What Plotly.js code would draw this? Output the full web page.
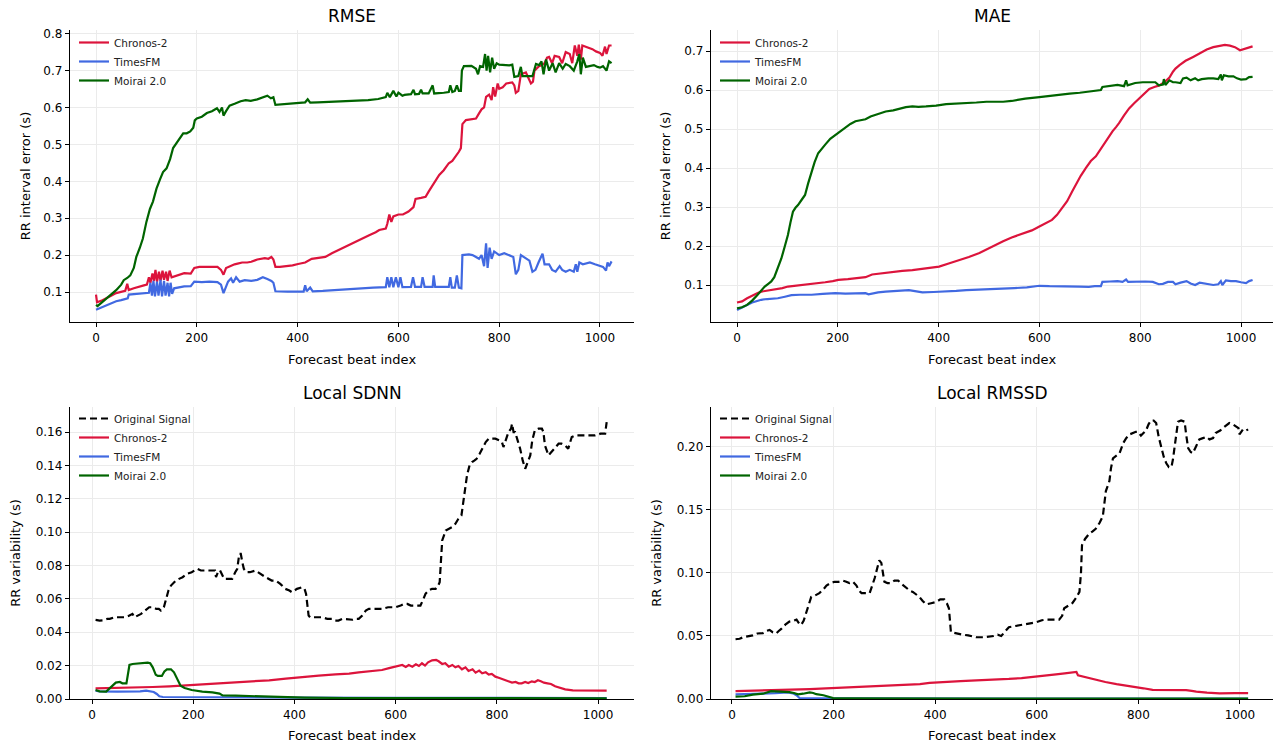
<!DOCTYPE html>
<html>
<head>
<meta charset="utf-8">
<script src="https://cdn.plot.ly/plotly-3.0.1.min.js"></script>
<style>html,body{margin:0;padding:0;background:#fff;}#chart{width:1275px;height:747px;}</style>
</head>
<body>
<div id="chart"></div>
<script>
// ---------------- DATA ----------------
const seriesNames = ["Original Signal", "Chronos-2", "TimesFM", "Moirai 2.0"];
const panelTitles = ["RMSE", "MAE", "Local SDNN", "Local RMSSD"];

// RMSE
const rmseChronosX = [0,2,10,20,30,40,50,58,62,65,75,85,95,101,105,108,112,115,118,121,125,128,132,135,139,142,146,150,155,165,175,188,195,205,215,228,241,248,253,258,265,275,281,290,300,308,320,335,342,348,352,356,365,375,390,401,415,428,440,455,468,481,495,508,520,528,542,555,562,575,578,582,586,590,600,609,620,630,634,645,654,660,668,675,681,690,700,707,714,720,724,727,734,745,754,760,765,770,774,780,785,788,792,797,800,807,814,826,830,833,838,843,853,858,863,867,870,879,885,890,895,899,905,910,919,925,932,940,945,950,955,958,962,965,972,980,985,992,1000,1005,1010,1013,1018,1023];
const rmseChronosY = [0.093,0.072,0.076,0.082,0.090,0.097,0.100,0.103,0.122,0.105,0.110,0.115,0.118,0.120,0.140,0.125,0.150,0.130,0.160,0.128,0.155,0.130,0.158,0.133,0.155,0.130,0.158,0.140,0.142,0.146,0.151,0.150,0.165,0.168,0.168,0.170,0.168,0.160,0.147,0.165,0.170,0.175,0.177,0.180,0.180,0.182,0.188,0.192,0.190,0.195,0.188,0.168,0.168,0.169,0.172,0.176,0.180,0.190,0.192,0.195,0.205,0.214,0.222,0.232,0.240,0.245,0.254,0.262,0.268,0.272,0.285,0.310,0.290,0.305,0.310,0.310,0.318,0.330,0.352,0.355,0.358,0.372,0.390,0.405,0.417,0.430,0.449,0.455,0.467,0.480,0.490,0.555,0.566,0.568,0.570,0.584,0.595,0.600,0.629,0.635,0.620,0.655,0.630,0.665,0.651,0.655,0.665,0.668,0.660,0.640,0.645,0.690,0.695,0.680,0.665,0.670,0.700,0.712,0.715,0.720,0.735,0.737,0.720,0.740,0.737,0.720,0.750,0.745,0.720,0.768,0.740,0.770,0.730,0.768,0.765,0.760,0.758,0.752,0.748,0.740,0.765,0.745,0.768,0.768];

const rmseTimesX = [0,10,20,30,40,50,60,63,65,80,95,105,108,111,114,117,121,124,128,131,135,138,142,145,148,151,155,165,175,188,195,210,225,241,248,253,258,262,268,272,278,285,295,308,320,331,340,348,352,356,380,400,412,415,418,425,430,450,481,505,528,550,575,578,582,586,590,595,600,604,608,625,629,633,645,648,652,668,670,673,700,703,706,712,716,720,725,727,740,747,754,760,765,770,774,777,781,785,790,800,810,820,828,833,838,843,853,860,866,872,878,886,890,899,905,912,920,925,932,940,948,952,955,959,966,972,980,990,1000,1006,1012,1015,1018,1023];
const rmseTimesY = [0.052,0.058,0.064,0.070,0.075,0.078,0.082,0.083,0.093,0.095,0.097,0.098,0.125,0.090,0.130,0.088,0.128,0.090,0.133,0.088,0.130,0.090,0.125,0.088,0.125,0.095,0.110,0.113,0.115,0.116,0.128,0.127,0.128,0.127,0.120,0.097,0.115,0.128,0.137,0.125,0.140,0.128,0.132,0.130,0.133,0.140,0.135,0.130,0.125,0.102,0.101,0.102,0.101,0.118,0.102,0.112,0.102,0.103,0.106,0.109,0.111,0.112,0.113,0.140,0.113,0.140,0.113,0.140,0.113,0.140,0.113,0.114,0.140,0.114,0.114,0.140,0.114,0.114,0.145,0.114,0.114,0.140,0.112,0.112,0.145,0.112,0.110,0.200,0.202,0.200,0.195,0.190,0.200,0.170,0.232,0.165,0.220,0.190,0.210,0.200,0.205,0.200,0.195,0.148,0.160,0.200,0.192,0.185,0.155,0.160,0.180,0.204,0.175,0.175,0.160,0.155,0.170,0.160,0.155,0.160,0.155,0.175,0.155,0.180,0.175,0.178,0.180,0.175,0.170,0.168,0.158,0.180,0.170,0.183];

const rmseMoiraiX = [0,3,10,20,30,40,50,55,62,68,75,80,87,93,100,107,113,120,127,133,140,147,153,160,167,173,180,187,193,196,200,210,220,230,240,245,250,253,258,265,275,287,297,307,320,333,340,347,352,356,365,380,400,415,420,425,440,460,480,500,520,540,560,575,578,583,590,596,600,608,612,625,630,633,641,645,648,660,668,671,690,700,703,707,712,716,720,724,726,730,745,754,758,762,768,772,775,778,782,786,790,795,800,810,820,826,830,838,843,846,855,862,866,870,873,879,884,888,893,899,906,912,919,926,932,940,948,955,959,962,966,972,980,988,995,1000,1006,1013,1018,1023];
const rmseMoiraiY = [0.065,0.062,0.070,0.082,0.092,0.105,0.120,0.132,0.138,0.145,0.165,0.195,0.220,0.245,0.290,0.325,0.345,0.380,0.405,0.425,0.435,0.460,0.490,0.505,0.520,0.530,0.530,0.535,0.545,0.565,0.570,0.575,0.585,0.590,0.598,0.588,0.600,0.578,0.590,0.605,0.610,0.617,0.620,0.618,0.622,0.628,0.632,0.625,0.628,0.607,0.608,0.610,0.612,0.614,0.622,0.613,0.614,0.615,0.617,0.618,0.619,0.620,0.623,0.628,0.640,0.628,0.645,0.630,0.640,0.632,0.634,0.636,0.648,0.636,0.637,0.648,0.638,0.638,0.660,0.638,0.640,0.642,0.660,0.642,0.645,0.660,0.645,0.645,0.700,0.712,0.713,0.705,0.690,0.712,0.710,0.745,0.700,0.740,0.695,0.735,0.705,0.720,0.716,0.715,0.714,0.716,0.683,0.685,0.710,0.685,0.684,0.685,0.685,0.705,0.718,0.715,0.725,0.690,0.730,0.700,0.720,0.695,0.720,0.705,0.718,0.712,0.700,0.725,0.745,0.690,0.735,0.710,0.712,0.715,0.710,0.708,0.712,0.700,0.725,0.720];

// MAE
const maeChronosX = [0,10,20,30,40,48,58,68,80,90,101,115,135,155,175,190,201,220,241,255,268,285,308,328,348,370,385,401,420,441,460,481,500,515,528,545,560,572,585,600,612,625,635,645,655,665,672,682,692,702,712,722,732,738,745,752,758,768,778,788,798,808,818,828,838,848,858,865,870,878,890,905,918,932,945,958,968,978,988,998,1005,1012,1018,1023];
const maeChronosY = [0.055,0.058,0.066,0.073,0.079,0.083,0.085,0.087,0.090,0.092,0.096,0.098,0.100,0.103,0.107,0.110,0.113,0.115,0.117,0.120,0.127,0.130,0.134,0.136,0.138,0.142,0.144,0.147,0.155,0.165,0.172,0.182,0.195,0.205,0.212,0.222,0.228,0.233,0.240,0.250,0.258,0.267,0.280,0.297,0.315,0.340,0.357,0.380,0.400,0.418,0.430,0.450,0.468,0.482,0.494,0.505,0.515,0.535,0.553,0.566,0.578,0.592,0.603,0.608,0.612,0.620,0.632,0.647,0.655,0.664,0.675,0.685,0.695,0.704,0.710,0.714,0.716,0.714,0.710,0.702,0.705,0.706,0.710,0.712];

const maeTimesX = [0,10,20,30,40,48,60,70,81,95,108,125,148,170,195,215,241,255,261,268,280,295,315,330,341,350,368,390,415,435,455,480,505,528,550,575,600,620,650,680,698,710,722,725,740,755,765,772,776,790,810,825,837,845,855,865,870,880,892,900,909,918,928,935,945,955,960,963,970,980,990,1000,1010,1016,1023];
const maeTimesY = [0.036,0.042,0.050,0.055,0.059,0.062,0.064,0.065,0.066,0.070,0.074,0.075,0.075,0.077,0.079,0.078,0.079,0.079,0.076,0.078,0.081,0.083,0.084,0.086,0.087,0.085,0.081,0.082,0.083,0.085,0.087,0.088,0.089,0.091,0.092,0.094,0.098,0.097,0.097,0.096,0.095,0.097,0.097,0.108,0.109,0.110,0.108,0.114,0.108,0.109,0.109,0.108,0.102,0.103,0.108,0.108,0.102,0.106,0.110,0.104,0.100,0.106,0.104,0.102,0.100,0.102,0.110,0.100,0.112,0.110,0.110,0.107,0.105,0.110,0.113];

const maeMoiraiX = [0,10,20,30,40,48,55,62,68,74,78,83,88,95,101,106,111,116,121,128,135,141,148,154,161,168,175,185,195,205,215,225,235,245,255,265,275,285,295,310,321,335,348,360,375,395,415,435,455,475,495,515,528,545,572,600,620,638,660,680,698,715,722,725,740,755,768,772,775,790,805,820,830,837,845,847,850,858,865,870,880,885,892,900,909,915,922,935,945,955,960,962,966,975,985,992,1000,1010,1016,1023];
const maeMoiraiY = [0.040,0.043,0.049,0.060,0.074,0.087,0.096,0.103,0.109,0.120,0.134,0.150,0.168,0.200,0.228,0.260,0.288,0.298,0.305,0.318,0.331,0.360,0.391,0.415,0.438,0.450,0.460,0.475,0.485,0.493,0.503,0.513,0.520,0.523,0.525,0.532,0.537,0.542,0.545,0.548,0.552,0.556,0.558,0.557,0.558,0.560,0.564,0.565,0.566,0.568,0.570,0.570,0.570,0.572,0.578,0.582,0.585,0.589,0.591,0.593,0.596,0.598,0.600,0.608,0.611,0.613,0.610,0.625,0.612,0.618,0.620,0.619,0.620,0.612,0.614,0.628,0.613,0.625,0.620,0.620,0.618,0.630,0.632,0.625,0.630,0.625,0.628,0.630,0.630,0.628,0.640,0.625,0.638,0.635,0.635,0.630,0.627,0.628,0.633,0.634];

// Local SDNN
const sdnnOrigX = [7,15,22,30,35,45,54,64,74,80,84,90,97,105,113,120,127,132,136,142,146,151,156,162,166,172,179,188,197,208,215,225,235,243,245,250,253,261,268,277,283,287,291,294,297,300,305,312,323,332,343,355,363,372,382,390,395,405,415,420,423,428,431,445,454,465,474,480,487,495,507,515,521,527,534,541,547,560,573,585,600,610,617,623,630,639,649,655,659,665,672,679,684,687,690,692,699,705,711,718,724,730,734,738,741,746,751,756,760,766,771,778,784,790,797,805,810,813,818,823,828,830,833,836,841,846,851,856,861,866,870,875,882,889,892,895,902,908,915,922,928,935,941,945,948,955,967,980,994,1005,1014,1017];
const sdnnOrigY = [0.0474,0.0470,0.0472,0.0480,0.0480,0.0490,0.0490,0.0490,0.0500,0.0510,0.0490,0.0500,0.0510,0.0530,0.0550,0.0550,0.0540,0.0540,0.0530,0.0550,0.0600,0.0650,0.0680,0.0700,0.0710,0.0720,0.0730,0.0750,0.0760,0.0780,0.0770,0.0770,0.0770,0.0770,0.0730,0.0770,0.0770,0.0720,0.0720,0.0720,0.0760,0.0780,0.0870,0.0870,0.0820,0.0780,0.0760,0.0760,0.0770,0.0750,0.0730,0.0710,0.0710,0.0690,0.0660,0.0650,0.0640,0.0660,0.0670,0.0660,0.0630,0.0500,0.0490,0.0490,0.0490,0.0480,0.0480,0.0470,0.0470,0.0480,0.0475,0.0475,0.0480,0.0480,0.0500,0.0530,0.0540,0.0540,0.0540,0.0550,0.0550,0.0560,0.0570,0.0570,0.0560,0.0560,0.0560,0.0600,0.0630,0.0650,0.0660,0.0660,0.0680,0.0700,0.0880,0.0950,0.1010,0.1020,0.1030,0.1050,0.1080,0.1100,0.1180,0.1280,0.1340,0.1400,0.1420,0.1430,0.1440,0.1470,0.1500,0.1540,0.1560,0.1560,0.1560,0.1550,0.1540,0.1510,0.1560,0.1600,0.1620,0.1650,0.1600,0.1600,0.1550,0.1500,0.1430,0.1380,0.1420,0.1460,0.1550,0.1610,0.1620,0.1620,0.1600,0.1520,0.1460,0.1480,0.1500,0.1530,0.1530,0.1520,0.1500,0.1550,0.1570,0.1580,0.1580,0.1580,0.1580,0.1590,0.1590,0.1660];

const sdnnChronosX = [7,30,60,87,120,153,185,218,250,284,318,350,383,415,448,481,508,527,541,560,573,587,600,608,613,620,626,633,640,646,652,658,664,672,680,685,692,698,705,712,718,724,731,738,744,752,758,765,771,778,784,790,797,805,812,818,823,830,837,843,849,856,862,869,875,881,887,893,900,907,915,925,935,950,967,980,994,1005,1017];
const sdnnChronosY = [0.0064,0.0065,0.0066,0.0068,0.0072,0.0076,0.0082,0.0088,0.0093,0.0098,0.0104,0.0112,0.0122,0.0132,0.0140,0.0148,0.0152,0.0160,0.0164,0.0170,0.0174,0.0185,0.0194,0.0196,0.0204,0.0192,0.0204,0.0194,0.0208,0.0198,0.0214,0.0200,0.0220,0.0232,0.0234,0.0226,0.0210,0.0214,0.0194,0.0204,0.0190,0.0198,0.0178,0.0190,0.0168,0.0178,0.0158,0.0170,0.0154,0.0160,0.0146,0.0150,0.0134,0.0126,0.0118,0.0112,0.0106,0.0098,0.0102,0.0094,0.0094,0.0102,0.0096,0.0106,0.0102,0.0112,0.0106,0.0098,0.0094,0.0090,0.0076,0.0066,0.0058,0.0052,0.0052,0.0054,0.0052,0.0052,0.0050];

const sdnnTimesX = [7,15,50,80,95,107,115,122,128,133,140,200,300,400,600,800,1017];
const sdnnTimesY = [0.0050,0.0045,0.0044,0.0044,0.0046,0.0050,0.0048,0.0042,0.0030,0.0016,0.0012,0.0012,0.0010,0.0008,0.0007,0.0006,0.0006];

const sdnnMoiraiX = [7,15,28,35,41,47,55,60,68,71,74,80,90,100,110,115,120,126,130,138,143,148,156,162,168,175,183,197,218,238,252,258,284,310,330,377,389,420,500,600,800,1017];
const sdnnMoiraiY = [0.0054,0.0046,0.0044,0.0064,0.0084,0.0098,0.0102,0.0094,0.0094,0.0155,0.0204,0.0210,0.0214,0.0218,0.0218,0.0214,0.0190,0.0145,0.0138,0.0138,0.0165,0.0178,0.0178,0.0160,0.0120,0.0080,0.0066,0.0054,0.0044,0.0040,0.0032,0.0021,0.0020,0.0018,0.0012,0.0012,0.0010,0.0008,0.0006,0.0005,0.0005,0.0004];

// Local RMSSD
const rmssdOrigX = [7,15,22,30,41,50,61,68,74,80,87,92,97,105,113,120,127,132,136,141,146,151,156,163,172,180,186,194,202,210,218,225,231,238,245,250,255,265,271,276,281,286,290,294,297,300,306,313,320,327,335,343,350,356,363,369,375,382,392,402,410,418,423,427,431,440,454,465,481,495,507,515,523,530,545,560,572,585,600,610,618,630,644,650,654,662,670,677,684,687,689,695,703,710,716,724,730,733,736,743,746,750,757,763,770,776,783,789,795,799,805,810,815,820,825,830,835,840,845,850,855,860,865,868,872,875,878,884,891,894,898,903,907,913,920,927,934,940,947,952,956,961,966,972,979,986,993,997,999,1003,1006,1012,1016];
const rmssdOrigY = [0.0474,0.0478,0.0490,0.0495,0.0505,0.0520,0.0523,0.0540,0.0548,0.0530,0.0520,0.0540,0.0556,0.0590,0.0614,0.0620,0.0630,0.0600,0.0587,0.0620,0.0690,0.0760,0.0810,0.0820,0.0840,0.0870,0.0900,0.0920,0.0930,0.0930,0.0940,0.0930,0.0920,0.0930,0.0900,0.0860,0.0840,0.0840,0.0840,0.0900,0.0960,0.1040,0.1100,0.1080,0.1000,0.0930,0.0920,0.0920,0.0940,0.0940,0.0910,0.0880,0.0860,0.0850,0.0830,0.0810,0.0780,0.0750,0.0760,0.0770,0.0790,0.0790,0.0760,0.0720,0.0530,0.0520,0.0510,0.0505,0.0490,0.0490,0.0495,0.0500,0.0510,0.0500,0.0570,0.0580,0.0590,0.0600,0.0610,0.0625,0.0630,0.0630,0.0630,0.0660,0.0720,0.0740,0.0760,0.0800,0.0850,0.1000,0.1220,0.1270,0.1310,0.1330,0.1350,0.1400,0.1450,0.1550,0.1650,0.1730,0.1830,0.1910,0.1930,0.1950,0.2030,0.2070,0.2100,0.2110,0.2120,0.2120,0.2090,0.2110,0.2130,0.2180,0.2210,0.2210,0.2190,0.2080,0.1990,0.1920,0.1870,0.1840,0.1840,0.1900,0.2020,0.2120,0.2200,0.2210,0.2200,0.2100,0.1990,0.1960,0.1950,0.2000,0.2060,0.2070,0.2080,0.2060,0.2070,0.2110,0.2120,0.2130,0.2150,0.2170,0.2190,0.2180,0.2160,0.2150,0.2100,0.2120,0.2140,0.2130,0.2140];

const rmssdChronosX = [7,50,87,120,153,185,218,250,284,318,350,370,389,415,450,481,506,527,545,570,600,620,638,655,674,678,681,695,716,735,757,775,795,810,828,850,870,894,905,914,935,960,990,1016];
const rmssdChronosY = [0.0063,0.0066,0.0070,0.0074,0.0079,0.0084,0.0090,0.0094,0.0098,0.0103,0.0110,0.0118,0.0128,0.0136,0.0142,0.0148,0.0150,0.0156,0.0159,0.0166,0.0177,0.0186,0.0196,0.0204,0.0217,0.0215,0.0188,0.0175,0.0150,0.0135,0.0118,0.0108,0.0098,0.0085,0.0072,0.0070,0.0071,0.0071,0.0064,0.0058,0.0050,0.0045,0.0046,0.0046];

const rmssdTimesX = [7,30,60,85,100,110,120,127,133,200,1016];
const rmssdTimesY = [0.0037,0.0042,0.0043,0.0046,0.0050,0.0052,0.0045,0.0030,0.0008,0.0005,0.0003];

const rmssdMoiraiX = [7,25,41,61,77,90,97,113,122,130,140,153,160,166,180,186,199,230,300,500,1016];
const rmssdMoiraiY = [0.0019,0.0022,0.0035,0.0042,0.0062,0.0060,0.0058,0.0054,0.0048,0.0037,0.0042,0.0052,0.0048,0.0038,0.0030,0.0024,0.0008,0.0006,0.0005,0.0004,0.0003];

// ---------------- STYLE ----------------
const colors = {"Original Signal": "#000000", "Chronos-2": "#dc143c", "TimesFM": "#4169e1", "Moirai 2.0": "#006400"};
const FONT = "DejaVu Sans, Liberation Sans, sans-serif";

function tr(name, x, y, ax, leg) {
  return {
    type: "scatter", mode: "lines", name: name, x: x, y: y,
    xaxis: "x" + (ax === 1 ? "" : ax), yaxis: "y" + (ax === 1 ? "" : ax),
    legend: leg,
    line: {color: colors[name], width: 2.2, dash: name === "Original Signal" ? "7px,4px" : "solid"},
    hoverinfo: "skip"
  };
}

const data = [
  tr(seriesNames[1], rmseChronosX, rmseChronosY, 1, "legend"),
  tr(seriesNames[2], rmseTimesX, rmseTimesY, 1, "legend"),
  tr(seriesNames[3], rmseMoiraiX, rmseMoiraiY, 1, "legend"),
  tr(seriesNames[1], maeChronosX, maeChronosY, 2, "legend2"),
  tr(seriesNames[2], maeTimesX, maeTimesY, 2, "legend2"),
  tr(seriesNames[3], maeMoiraiX, maeMoiraiY, 2, "legend2"),
  tr(seriesNames[0], sdnnOrigX, sdnnOrigY, 3, "legend3"),
  tr(seriesNames[1], sdnnChronosX, sdnnChronosY, 3, "legend3"),
  tr(seriesNames[2], sdnnTimesX, sdnnTimesY, 3, "legend3"),
  tr(seriesNames[3], sdnnMoiraiX, sdnnMoiraiY, 3, "legend3"),
  tr(seriesNames[0], rmssdOrigX, rmssdOrigY, 4, "legend4"),
  tr(seriesNames[1], rmssdChronosX, rmssdChronosY, 4, "legend4"),
  tr(seriesNames[2], rmssdTimesX, rmssdTimesY, 4, "legend4"),
  tr(seriesNames[3], rmssdMoiraiX, rmssdMoiraiY, 4, "legend4")
];

const W = 1275, H = 747;
const px = v => v / W, py = v => 1 - v / H;

function xax(dom, range, anchor, standoff) {
  return {
    domain: dom, range: range, anchor: anchor,
    tick0: 0, dtick: 200, ticks: "outside", ticklen: 4, tickwidth: 1, tickcolor: "#000",
    showline: true, linecolor: "#000", linewidth: 1.2, mirror: false,
    showgrid: true, gridcolor: "#ebebeb", gridwidth: 1, zeroline: false,
    tickfont: {family: FONT, size: 12, color: "#000"},
    title: {text: "Forecast beat index", font: {family: FONT, size: 13, color: "#000"}, standoff: standoff}
  };
}
function yax(dom, range, anchor, dtick, fmt, label, standoff) {
  return {
    domain: dom, range: range, anchor: anchor,
    tick0: 0, dtick: dtick, tickformat: fmt, ticks: "outside", ticklen: 4, tickwidth: 1, tickcolor: "#000",
    showline: true, linecolor: "#000", linewidth: 1.2, mirror: false,
    showgrid: true, gridcolor: "#ebebeb", gridwidth: 1, zeroline: false,
    tickfont: {family: FONT, size: 12, color: "#000"},
    title: {text: label, font: {family: FONT, size: 13, color: "#000"}, standoff: standoff}
  };
}
function legend(xp, yp) {
  return {x: px(xp), y: py(yp), xanchor: "left", yanchor: "top", bgcolor: "rgba(255,255,255,0)",
    borderwidth: 0, font: {family: FONT, size: 10.5, color: "#222"}, tracegroupgap: 0, itemwidth: 30};
}
function title(text, xc, yc) {
  return {text: text, x: px(xc), y: py(yc), xref: "paper", yref: "paper", showarrow: false,
    xanchor: "center", yanchor: "middle", font: {family: FONT, size: 17, color: "#000"}};
}

const layout = {
  width: W, height: H, margin: {l: 0, r: 0, t: 0, b: 0},
  paper_bgcolor: "#fff", plot_bgcolor: "#fff", showlegend: true,
  xaxis:  xax([px(70), px(634)], [-51.6, 1067.5], "y", 11),
  yaxis:  yax([py(322), py(30)], [0.0187, 0.81], "x", 0.1, ".1f", "RR interval error (s)", 9),
  xaxis2: xax([px(711), px(1273)], [-51.6, 1063.5], "y2", 11),
  yaxis2: yax([py(322), py(30)], [0.0051, 0.754], "x2", 0.1, ".1f", "RR interval error (s)", 10),
  xaxis3: xax([px(70), px(634)], [-43.5, 1071], "y3", 10),
  yaxis3: yax([py(699), py(407)], [0, 0.175], "x3", 0.02, ".2f", "RR variability (s)", 12),
  xaxis4: xax([px(711), px(1273)], [-41.3, 1065], "y4", 10),
  yaxis4: yax([py(699), py(407)], [0, 0.2317], "x4", 0.05, ".2f", "RR variability (s)", 12),
  legend: legend(74, 28),
  legend2: legend(715, 28),
  legend3: legend(74, 404),
  legend4: legend(715, 404),
  annotations: [
    title(panelTitles[0], 352, 16), title(panelTitles[1], 992, 16),
    title(panelTitles[2], 352, 393), title(panelTitles[3], 992, 393)
  ]
};

Plotly.newPlot("chart", data, layout, {displayModeBar: false, staticPlot: true});
</script>
</body>
</html>
